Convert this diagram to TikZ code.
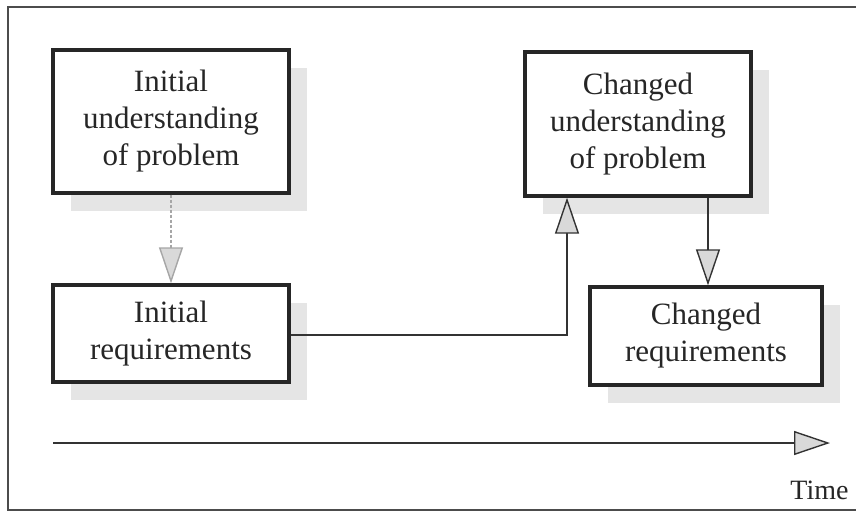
\documentclass[tikz,border=0pt]{standalone}
\usepackage{fontspec}
\setmainfont{Liberation Serif}
\usetikzlibrary{arrows.meta,shadows,calc}

\tikzset{
  box/.style={draw=black!85, line width=3.4pt, fill=white, align=center,
    inner sep=0pt, font=\fontsize{31}{37}\selectfont, text=black!85,
    drop shadow={shadow xshift=18pt, shadow yshift=-18pt, fill=gray!20, opacity=1}},
  flow/.style={draw=black!80, line width=2.8pt,
    -{Triangle[length=36pt, width=24pt, fill=gray!30, line width=1.4pt]}},
  faint/.style={flow, draw=gray!70, densely dashed}
}

\begin{document}
\begin{tikzpicture}[x=1pt, y=-1pt]
  \useasboundingbox (0,0) rectangle (856,512);

  % outer frame (right side runs off the page)
  \draw[black!70, line width=1.6pt] (860,7) -- (8,7) -- (8,510) -- (860,510);

  % the four stages
  \node[box, minimum width=236pt, minimum height=143pt] (iup) at (171,121.5)
    {Initial\\understanding\\of problem};
  \node[box, minimum width=236pt, minimum height=97pt] (ireq) at (171,333.5)
    {Initial\\requirements};
  \node[box, minimum width=226pt, minimum height=144pt] (cup) at (638,124)
    {Changed\\understanding\\of problem};
  \node[box, minimum width=232pt, minimum height=98pt] (creq) at (706,336)
    {Changed\\requirements};

  % transitions
  \draw[faint] (iup.south) -- (ireq.north);
  \coordinate (turn) at (567,335);
  \draw[flow] (ireq.east |- turn) -- (turn) -- (turn |- cup.south);
  \coordinate (down) at (708,0);
  \draw[flow] (down |- cup.south) -- (down |- creq.north);

  % time axis
  \coordinate (t0) at (53,443);
  \coordinate (t1) at (830,443);
  \draw[flow] (t0) -- (t1);
  \node[anchor=east, font=\fontsize{28}{32}\selectfont, text=black!85] (time) at (852,490) {Time};
\end{tikzpicture}
\end{document}
